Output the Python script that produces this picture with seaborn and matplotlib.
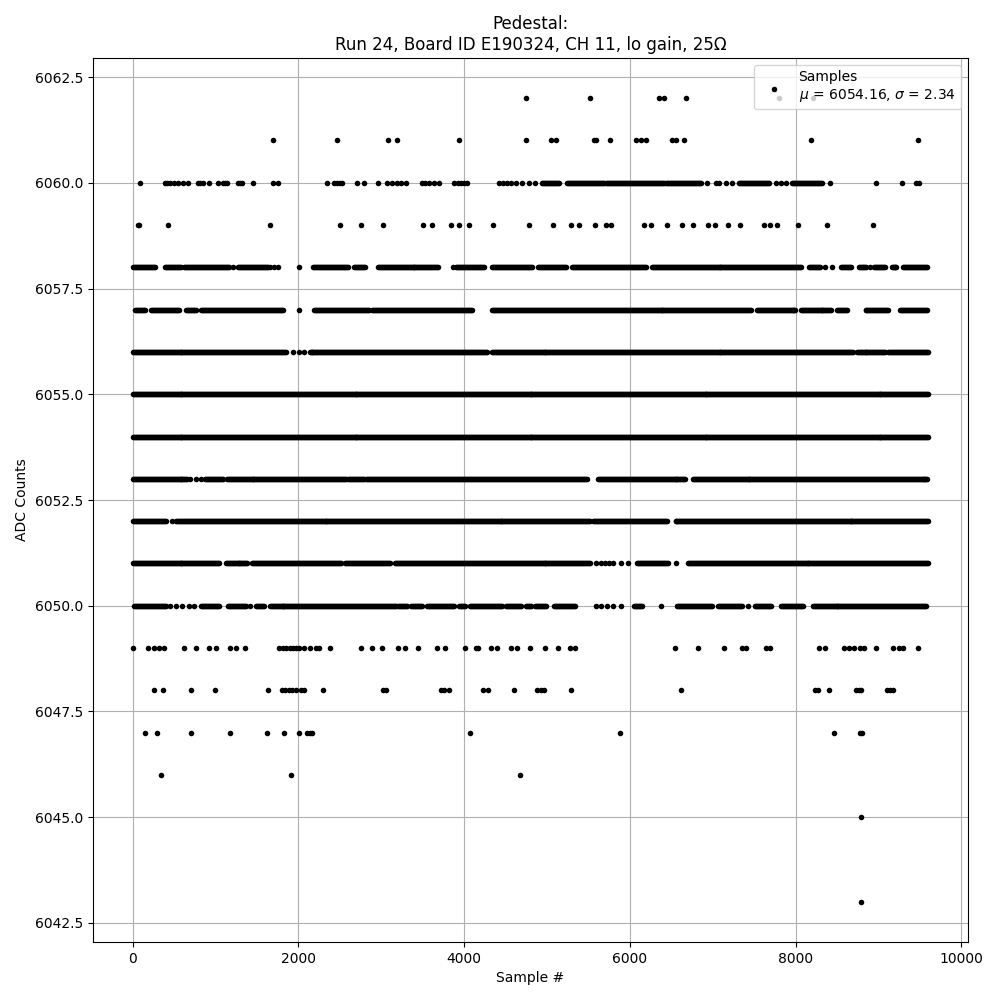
import numpy as np
import pandas as pd
import matplotlib
matplotlib.use("Agg")
import matplotlib.pyplot as plt
import seaborn as sns

# ─── DATA ────────────────────────────────────────────────────────────────────
# dense rows are given as runs (first sample, last sample) where dots are continuous,
# isolated dots are given as sample numbers
STEP = 12  # ~ one pixel of x, used only to fill the read runs

runs_6060 = [(4940, 5144), (5241, 5687), (5711, 5831), (5843, 6193), (6205, 6410),
             (6434, 6855), (7313, 7675), (7952, 8313)]
runs_6058 = [(4, 277), (386, 586), (618, 1169), (1269, 1631), (2173, 2594), (2675, 2807),
             (2956, 3691), (3900, 4241), (4341, 4823), (4895, 5241), (5301, 6193),
             (6265, 8072), (8157, 8290), (8542, 8663), (8759, 8850), (8950, 9084),
             (9157, 9217), (9301, 9600)]
runs_6057 = [(24, 145), (225, 566), (639, 759), (827, 1811), (2193, 2855), (2892, 4096),
             (4341, 7470), (7530, 8000), (8060, 8434), (8494, 8614), (8843, 9120),
             (9265, 9600)]
runs_6056 = [(0, 1851), (2133, 4277), (4333, 8699), (8735, 9084), (9120, 9600)]
runs_6055 = [(0, 9600)]
runs_6054 = [(0, 9600)]
runs_6053 = [(0, 663), (867, 1084), (1133, 2578), (2602, 2795), (2819, 3964),
             (3976, 5482), (5614, 6675), (6759, 9600)]
runs_6052 = [(0, 406), (526, 5526), (5554, 6446), (6550, 9600)]
runs_6051 = [(0, 1048), (1120, 1386), (1442, 2514), (2566, 3116), (3169, 5526),
             (6088, 6470), (6703, 9600)]
runs_6050 = [(12, 406), (827, 1048), (1145, 1370), (1490, 1590), (1651, 3177),
             (3205, 3313), (3357, 3498), (3554, 3880), (3940, 4020), (4072, 4458),
             (4502, 4683), (4743, 4803), (4855, 4988), (5084, 5337), (6048, 6148),
             (6570, 6992), (7064, 7353), (7506, 7707), (7827, 8096), (8205, 9582)]

dots_6062 = [4747, 5518, 6349, 6410, 6675, 7795, 8205]
dots_6061 = [1687, 2470, 3084, 3193, 3940, 4747, 5048, 5108, 5566, 5590, 5759, 6072,
             6133, 6193, 6506, 6554, 6651, 8181, 9482]
dots_6060 = [84, 386, 410, 450, 500, 540, 602, 663, 783, 813, 843, 916, 1024, 1084,
             1108, 1133, 1265, 1289, 1313, 1446, 1687, 1747, 2349, 2434, 2470, 2500,
             2530, 2711, 2795, 2964, 3072, 3132, 3193, 3241, 3301, 3494, 3530, 3578,
             3639, 3699, 3880, 3920, 3960, 4000, 4036, 4422, 4470, 4520, 4570, 4627,
             4699, 4783, 4855, 6928, 7036, 7072, 7157, 7229, 7759, 7820, 7880, 8410,
             8964, 9289, 9458, 9494]
dots_6059 = [60, 80, 422, 1651, 2506, 2759, 3024, 3506, 3614, 3843, 3940, 4060, 4349,
             4783, 5072, 5289, 5386, 5578, 5711, 5771, 6169, 6253, 6446, 6627, 6759,
             6940, 7024, 7181, 7325, 7614, 7687, 7771, 8024, 8373, 8928]
dots_6058 = [1209, 1659, 1703, 1751, 2012, 3859, 8350, 8434, 8900]
dots_6057 = [2012]
dots_6056 = [1932, 2012, 2072]
dots_6053 = [695, 760, 827]
dots_6052 = [474]
dots_6051 = [5586, 5650, 5700, 5750, 5800, 5888, 5980, 6550]
dots_6050 = [446, 520, 600, 680, 735, 1410, 5586, 5650, 5720, 5800, 5888, 6369, 7425]
dots_6049 = [4, 185, 253, 317, 378, 618, 767, 920, 1000, 1169, 1249, 1357, 1763, 1811,
             1851, 1892, 1932, 1972, 2012, 2072, 2133, 2213, 2253, 2378, 2755, 2884,
             3004, 3197, 3285, 3438, 3671, 3767, 4008, 4141, 4161, 4321, 4394, 4562,
             4635, 4791, 4972, 5136, 5273, 5337, 6542, 6819, 7136, 7353, 7401, 7642,
             7695, 8277, 8349, 8578, 8639, 8699, 8779, 8819, 8968, 9173, 9253, 9293,
             9474]
dots_6048 = [253, 365, 699, 992, 1631, 1803, 1843, 1884, 1924, 1964, 2032, 2072, 2293,
             3016, 3056, 3719, 3759, 3811, 4229, 4293, 4602, 4883, 4923, 4964, 5285,
             6618, 8237, 8269, 8401, 8727, 8759, 8791, 9100, 9140, 9180]
dots_6047 = [145, 293, 699, 1173, 1618, 1823, 2004, 2100, 2133, 2165, 4072, 5879, 8461,
             8779, 8799]
dots_6046 = [341, 1908, 4679]
dots_6045 = [8787]
dots_6043 = [8787]

MU, SIGMA = 6054.16, 2.34

# ─── BUILD POINT TABLE ───────────────────────────────────────────────────────
runs = {6060: runs_6060, 6058: runs_6058, 6057: runs_6057, 6056: runs_6056,
        6055: runs_6055, 6054: runs_6054, 6053: runs_6053, 6052: runs_6052,
        6051: runs_6051, 6050: runs_6050}
dots = {6062: dots_6062, 6061: dots_6061, 6060: dots_6060, 6059: dots_6059,
        6058: dots_6058, 6057: dots_6057, 6056: dots_6056, 6053: dots_6053,
        6052: dots_6052, 6051: dots_6051, 6050: dots_6050, 6049: dots_6049,
        6048: dots_6048, 6047: dots_6047, 6046: dots_6046, 6045: dots_6045,
        6043: dots_6043}

xs, ys = [], []
for level, segs in runs.items():
    for a, b in segs:
        seg = np.arange(a, b + 1, STEP)
        xs.extend(seg)
        ys.extend([level] * len(seg))
for level, pts in dots.items():
    xs.extend(pts)
    ys.extend([level] * len(pts))

df = pd.DataFrame({"sample": xs, "adc": ys})

# ─── PLOT ────────────────────────────────────────────────────────────────────
fig, ax = plt.subplots(figsize=(10, 10), dpi=100)
sns.scatterplot(data=df, x="sample", y="adc", color="black", s=16, linewidth=0,
                label=f"Samples\n$\\mu$ = {MU:.2f}, $\\sigma$ = {SIGMA:.2f}",
                zorder=3, ax=ax)
ax.set_title("Pedestal:\nRun 24, Board ID E190324, CH 11, lo gain, 25Ω")
ax.set_xlabel("Sample #")
ax.set_ylabel("ADC Counts")
ax.set_axisbelow(True)
ax.grid(True)
ax.legend(loc="upper right")
plt.subplots_adjust(left=0.093, right=0.968, top=0.942, bottom=0.058)
plt.savefig("out.png", dpi=100)
